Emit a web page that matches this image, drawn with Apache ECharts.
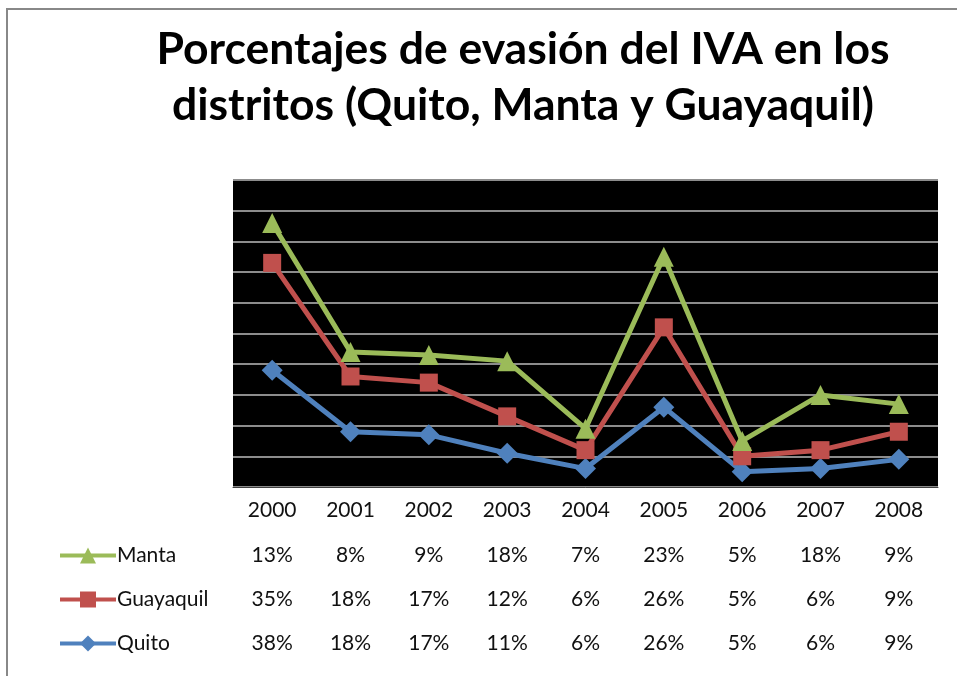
<!DOCTYPE html>
<html>
<head>
<meta charset="utf-8">
<script src="https://cdn.jsdelivr.net/npm/echarts@6/dist/echarts.min.js"></script>
<style>
html,body{margin:0;padding:0;background:#fff;}
#c{width:957px;height:676px;}
</style>
</head>
<body>
<div id="c"></div>
<script>
var years = ['2000','2001','2002','2003','2004','2005','2006','2007','2008'];
var quito = [38,18,17,11,6,26,5,6,9];
var guayaquil = [35,18,17,12,6,26,5,6,9];
var manta = [13,8,9,18,7,23,5,18,9];
var yTicks = [0,10,20,30,40,50,60,70,80,90,100];

var FONT = 'Lato';
var chart = echarts.init(document.getElementById('c'));

function rowAxis(arr, offset) {
  return {
    type: 'category', data: years, position: 'bottom', offset: offset, gridIndex: 0,
    axisLine: {show: false}, axisTick: {show: false},
    axisLabel: {
      margin: 13, fontFamily: FONT, fontSize: 21, color: '#111', interval: 0,
      formatter: function (v, i) { return arr[i] + '%'; }
    }
  };
}

var option = {
  animation: false,
  backgroundColor: '#fff',
  title: {
    text: 'Porcentajes de evasión del IVA en los\ndistritos (Quito, Manta y Guayaquil)',
    left: 518, textAlign: 'center', top: 17,
    textStyle: {fontFamily: FONT, fontWeight: 'bold', fontSize: 44.5, lineHeight: 56, color: '#000'}
  },
  graphic: [{
    type: 'rect', shape: {x: 7, y: 9, width: 1000, height: 700},
    style: {fill: 'none', stroke: '#888', lineWidth: 2}, silent: true, z: -1
  }],
  legend: [
    {data: ['Manta'], left: 58, top: 545},
    {data: ['Guayaquil'], left: 58, top: 589},
    {data: ['Quito'], left: 58, top: 633}
  ].map(function (l) {
    l.itemWidth = 56; l.itemHeight = 20; l.itemGap = 2;
    l.textStyle = {fontFamily: FONT, fontSize: 21, color: '#111', padding: [0,0,0,-4]};
    l.lineStyle = {width: 4};
    l.padding = 0;
    return l;
  }),
  grid: {left: 233, right: 19, top: 180, bottom: 189, show: true, backgroundColor: '#000', borderWidth: 0},
  xAxis: [
    {
      type: 'category', data: years, boundaryGap: true,
      axisLine: {show: true, lineStyle: {color: '#404040'}},
      axisTick: {show: false},
      axisLabel: {margin: 13, fontFamily: FONT, fontSize: 21, color: '#111', interval: 0}
    },
    rowAxis(manta, 45),
    rowAxis(guayaquil, 89),
    rowAxis(quito, 133)
  ],
  yAxis: {
    type: 'value', min: yTicks[0], max: yTicks[yTicks.length - 1], interval: 10,
    axisLabel: {show: false}, axisLine: {show: false}, axisTick: {show: false},
    splitLine: {show: true, lineStyle: {color: '#8c8c8c', width: 2}}
  },
  series: [
    {name: 'Quito', type: 'line', stack: 't', data: quito, symbol: 'diamond', symbolSize: 21,
     color: '#4F81BD', lineStyle: {width: 5}, itemStyle: {color: '#4F81BD'}},
    {name: 'Guayaquil', type: 'line', stack: 't', data: guayaquil, symbol: 'rect', symbolSize: 18,
     color: '#C0504D', lineStyle: {width: 5}, itemStyle: {color: '#C0504D'}},
    {name: 'Manta', type: 'line', stack: 't', data: manta, symbol: 'triangle', symbolSize: 20,
     color: '#9BBB59', lineStyle: {width: 5}, itemStyle: {color: '#9BBB59'}}
  ]
};
chart.setOption(option);
</script>
</body>
</html>
